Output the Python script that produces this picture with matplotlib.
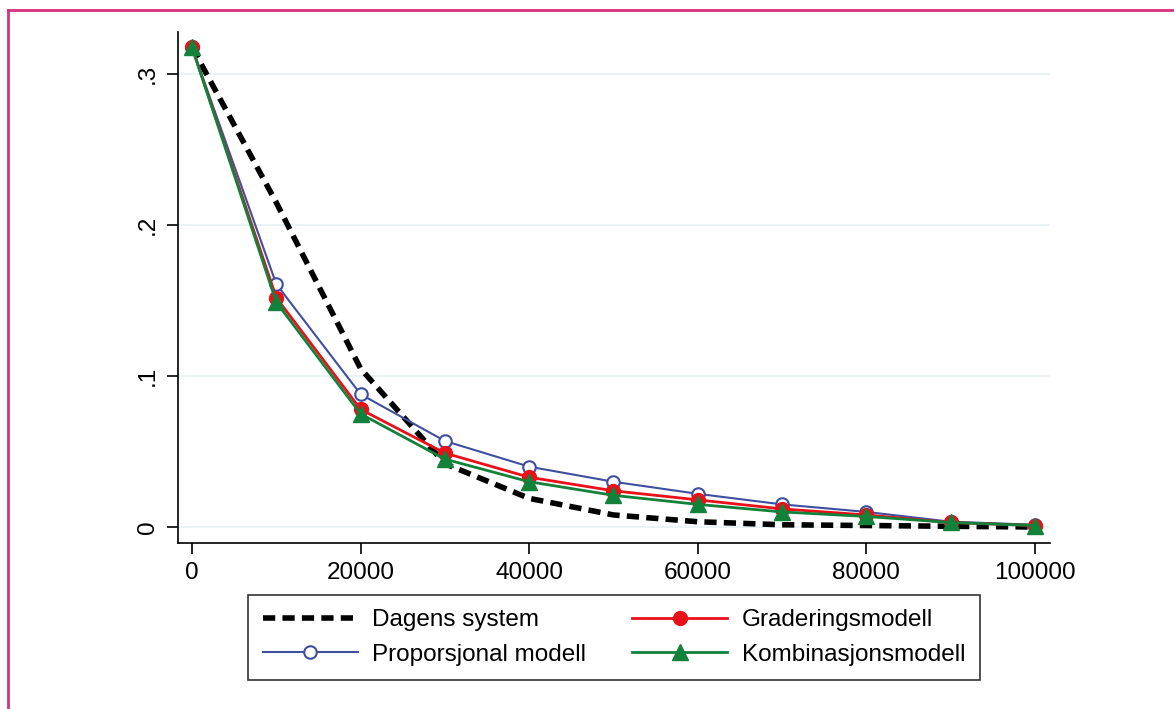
import matplotlib.pyplot as plt
from matplotlib.lines import Line2D

plt.rcParams['font.family'] = ['Liberation Sans', 'DejaVu Sans']

# Data
x = [0, 10000, 20000, 30000, 40000, 50000, 60000, 70000, 80000, 90000, 100000]
dagens = [0.318, 0.215, 0.105, 0.042, 0.019, 0.008, 0.0035, 0.0015, 0.001, 0.0005, 0.0]
proporsjonal = [0.318, 0.161, 0.088, 0.057, 0.040, 0.030, 0.022, 0.015, 0.010, 0.0035, 0.0015]
gradering = [0.318, 0.152, 0.078, 0.049, 0.033, 0.024, 0.018, 0.012, 0.008, 0.003, 0.001]
kombinasjon = [0.318, 0.149, 0.075, 0.045, 0.030, 0.021, 0.015, 0.010, 0.007, 0.003, 0.001]

yticks = [0, 0.1, 0.2, 0.3]
ytick_labels = ['0', '.1', '.2', '.3']
xticks = [0, 20000, 40000, 60000, 80000, 100000]

fig = plt.figure(figsize=(11.74, 7.09), dpi=100)
ax = fig.add_axes([0.1516, 0.2341, 0.7428, 0.7207])

ax.plot(x, dagens, color='black', lw=4, ls=(0, (2.2, 1.3)), label='Dagens system')
ax.plot(x, proporsjonal, color='#3e4ea0', lw=1.5, marker='o', ms=9,
        mfc='white', mec='#3e4ea0', mew=1.5, label='Proporsjonal modell')
ax.plot(x, gradering, color='#e8111a', lw=2, marker='o', ms=10,
        mec='#e8111a', label='Graderingsmodell')
ax.plot(x, kombinasjon, color='#12813a', lw=2, marker='^', ms=11,
        mec='#12813a', label='Kombinasjonsmodell')

ax.set_xlim(-1660, 101780)
ax.set_ylim(-0.0106, 0.328)
ax.set_yticks(yticks)
ax.set_yticklabels(ytick_labels, rotation=90, va='center')
ax.set_xticks(xticks)
ax.tick_params(axis='both', direction='out', length=8, width=1.2, labelsize=17.5, pad=6)
ax.grid(axis='y', color='#eaf2f4', lw=1.5)
ax.set_axisbelow(True)
for s in ['top', 'right']:
    ax.spines[s].set_visible(False)
for s in ['left', 'bottom']:
    ax.spines[s].set_linewidth(1.2)

leg = fig.legend(ncol=2, loc='center', bbox_to_anchor=(614 / 1174, 1 - 637.5 / 709),
                 fontsize=17.5, frameon=True, fancybox=False, edgecolor='black',
                 handlelength=3.9, columnspacing=1.9, labelspacing=0.5,
                 borderpad=0.6, handletextpad=0.6, borderaxespad=0)
leg.get_frame().set_linewidth(1.2)

# pink outer frame
fig.add_artist(Line2D([8 / 1174, 1], [1 - 10 / 709, 1 - 10 / 709], color='#d6307e', lw=2))
fig.add_artist(Line2D([8 / 1174, 8 / 1174], [0, 1 - 10 / 709], color='#d6307e', lw=2))

fig.savefig('out.png', dpi=100, facecolor='white')
